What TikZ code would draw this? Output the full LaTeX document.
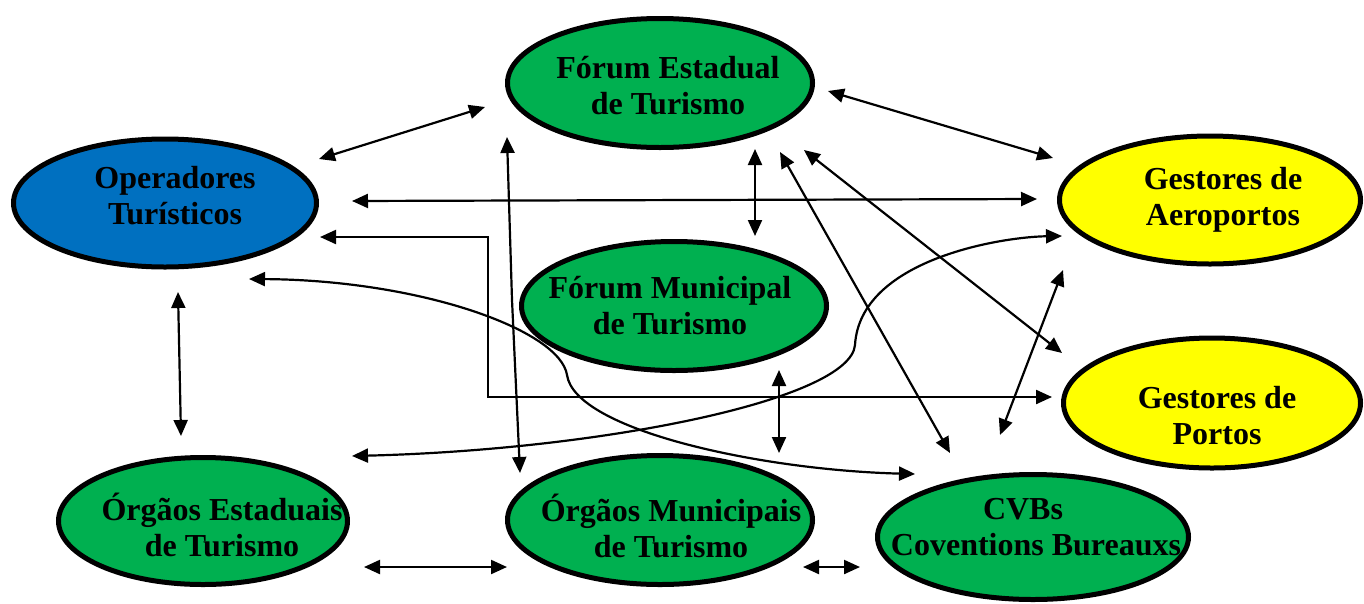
\documentclass[tikz,border=0pt]{standalone}
\usepackage{fontspec}
\setmainfont{Liberation Serif}
\usetikzlibrary{shapes.geometric,arrows.meta}
\definecolor{cgreen}{RGB}{0,176,80}
\definecolor{cblue}{RGB}{0,112,192}
\definecolor{cyellow}{RGB}{255,255,0}
\begin{document}
\begin{tikzpicture}[x=1pt,y=-1pt,
  bubble/.style={ellipse,draw=black,line width=5pt,inner sep=0pt},
  lbl/.style={font=\fontsize{32pt}{36pt}\selectfont\bfseries,align=center,anchor=base,inner sep=0pt},
  link/.style={line width=2.2pt,{Triangle[length=16pt,width=14pt]}-{Triangle[length=16pt,width=14pt]}}]
\useasboundingbox (0,0) rectangle (1364,603);
% ellipses
\node[bubble,fill=cgreen,minimum width=305pt,minimum height=129pt] (fe) at (660,83) {};
\node[bubble,fill=cblue,minimum width=303pt,minimum height=128pt] (op) at (165,203) {};
\node[bubble,fill=cyellow,minimum width=301pt,minimum height=128pt] (ae) at (1210,200) {};
\node[bubble,fill=cgreen,minimum width=305pt,minimum height=129pt] (fm) at (674,306) {};
\node[bubble,fill=cyellow,minimum width=297pt,minimum height=130pt] (po) at (1212,403) {};
\node[bubble,fill=cgreen,minimum width=289pt,minimum height=127pt] (oe) at (203,521) {};
\node[bubble,fill=cgreen,minimum width=305pt,minimum height=129pt] (om) at (660,520) {};
\node[bubble,fill=cgreen,minimum width=311pt,minimum height=125pt] (cv) at (1033,537) {};
% labels (anchor = baseline of the last line)
\node[lbl] (tfe) at (668,114) {Fórum Estadual\\de Turismo};
\node[lbl] (top) at (175,224) {Operadores\\Turísticos};
\node[lbl] (tae) at (1223,225) {Gestores de\\Aeroportos};
\node[lbl] (tfm) at (670,334) {Fórum Municipal\\de Turismo};
\node[lbl] (tpo) at (1217,444) {Gestores de\\Portos};
\node[lbl] (toe) at (222,556) {Órgãos Estaduais\\de Turismo};
\node[lbl] (tom) at (671,557) {Órgãos Municipais\\de Turismo};
\node[lbl] (tcv) at (1036,555) {CVBs\hspace*{26pt}\\Coventions Bureauxs};
% connector end points
\coordinate (a1) at (319,159); \coordinate (a2) at (485,107);
\coordinate (b1) at (828,91);  \coordinate (b2) at (1053,158);
\coordinate (c1) at (352,201); \coordinate (c2) at (1037,199);
\coordinate (d1) at (755,149); \coordinate (d2) at (755,236);
\coordinate (e1) at (780,152); \coordinate (e2) at (950,453);
\coordinate (f1) at (804,150); \coordinate (f2) at (1062,353);
\coordinate (g1) at (320,237); \coordinate (g2) at (488,237); \coordinate (g3) at (488,397); \coordinate (g4) at (1052,397);
\coordinate (h1) at (352,456); \coordinate (h2) at (855,345); \coordinate (h3) at (1062,236);
\coordinate (i1) at (249,279); \coordinate (i2) at (567,375); \coordinate (i3) at (915,474);
\coordinate (j1) at (507,137); \coordinate (j2) at (512,300); \coordinate (j3) at (520,473);
\coordinate (k1) at (178,292); \coordinate (k2) at (181,436);
\coordinate (l1) at (779,370); \coordinate (l2) at (779,453);
\coordinate (m1) at (1063,270); \coordinate (m2) at (1000,435);
\coordinate (n1) at (364,567); \coordinate (n2) at (507,567);
\coordinate (o1) at (803,567); \coordinate (o2) at (860,567);
% connectors
\draw[link] (a1) -- (a2);
\draw[link] (b1) -- (b2);
\draw[link] (c1) -- (c2);
\draw[link] (d1) -- (d2);
\draw[link] (e1) -- (e2);
\draw[link] (f1) -- (f2);
\draw[link] (g1) -- (g2) -- (g3) -- (g4);
\draw[link] (h1) .. controls (600,450) and (850,400) .. (h2) .. controls (860,260) and (1000,237) .. (h3);
\draw[link] (i1) .. controls (420,280) and (560,330) .. (i2) .. controls (575,430) and (760,470) .. (i3);
\draw[link] (j1) -- (j2) -- (j3);
\draw[link] (k1) -- (k2);
\draw[link] (l1) -- (l2);
\draw[link] (m1) -- (m2);
\draw[link] (n1) -- (n2);
\draw[link] (o1) -- (o2);
\end{tikzpicture}
\end{document}
